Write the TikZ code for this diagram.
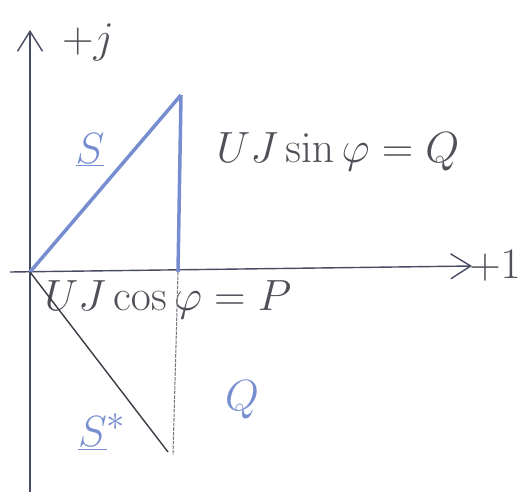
\documentclass[tikz,border=0pt]{standalone}
\usetikzlibrary{arrows.meta}
\definecolor{penblue}{RGB}{118,142,208}
\definecolor{pencil}{RGB}{60,60,70}
\begin{document}
\begin{tikzpicture}[x=0.02cm,y=-0.02cm,
axis/.style={draw=pencil!80!penblue, thick, -{Straight Barb[length=4mm,width=5mm]}},
blueline/.style={draw=penblue, line width=2pt},
greyline/.style={draw=pencil, thick},
hand/.style={font=\Huge, text=pencil!90},
bluehand/.style={font=\Huge, text=penblue},
]
\useasboundingbox (0,0) rectangle (520,500);
%Nodes
\coordinate (origin) at (30,272);
\coordinate (ybottom) at (30,492);
\coordinate (ytop) at (30,30);
\coordinate (xleft) at (10,272);
\coordinate (xright) at (472,266);
\coordinate (stip) at (181,95);
\coordinate (sfoot) at (178,272);
\coordinate (sstartip) at (168,452);
\coordinate (qfoot) at (173,455);
\node[hand]      (plusj)   at (88,42)   {$+j$};
\node[hand]      (plusone) at (495,266) {$+1$};
\node[bluehand]  (slabel)  at (90,150)  {$\underline{S}$};
\node[hand]      (qline)   at (338,152) {$UJ\sin\varphi = Q$};
\node[hand]      (pline)   at (168,300) {$UJ\cos\varphi = P$};
\node[bluehand]  (sstar)   at (102,432) {$\underline{S}^{*}$};
\node[bluehand]  (qlabel)  at (242,400) {$Q$};

%Lines
\draw[axis] (ybottom) -- (ytop);
\draw[axis] (xleft) -- (xright);
\draw[blueline] (origin) -- (stip);
\draw[blueline] (stip) -- (sfoot);
\draw[greyline] (origin) -- (sstartip);
\draw[draw=pencil!70, semithick, dash pattern=on 2pt off 0.6pt] (sfoot) -- (qfoot);
\end{tikzpicture}
\end{document}
